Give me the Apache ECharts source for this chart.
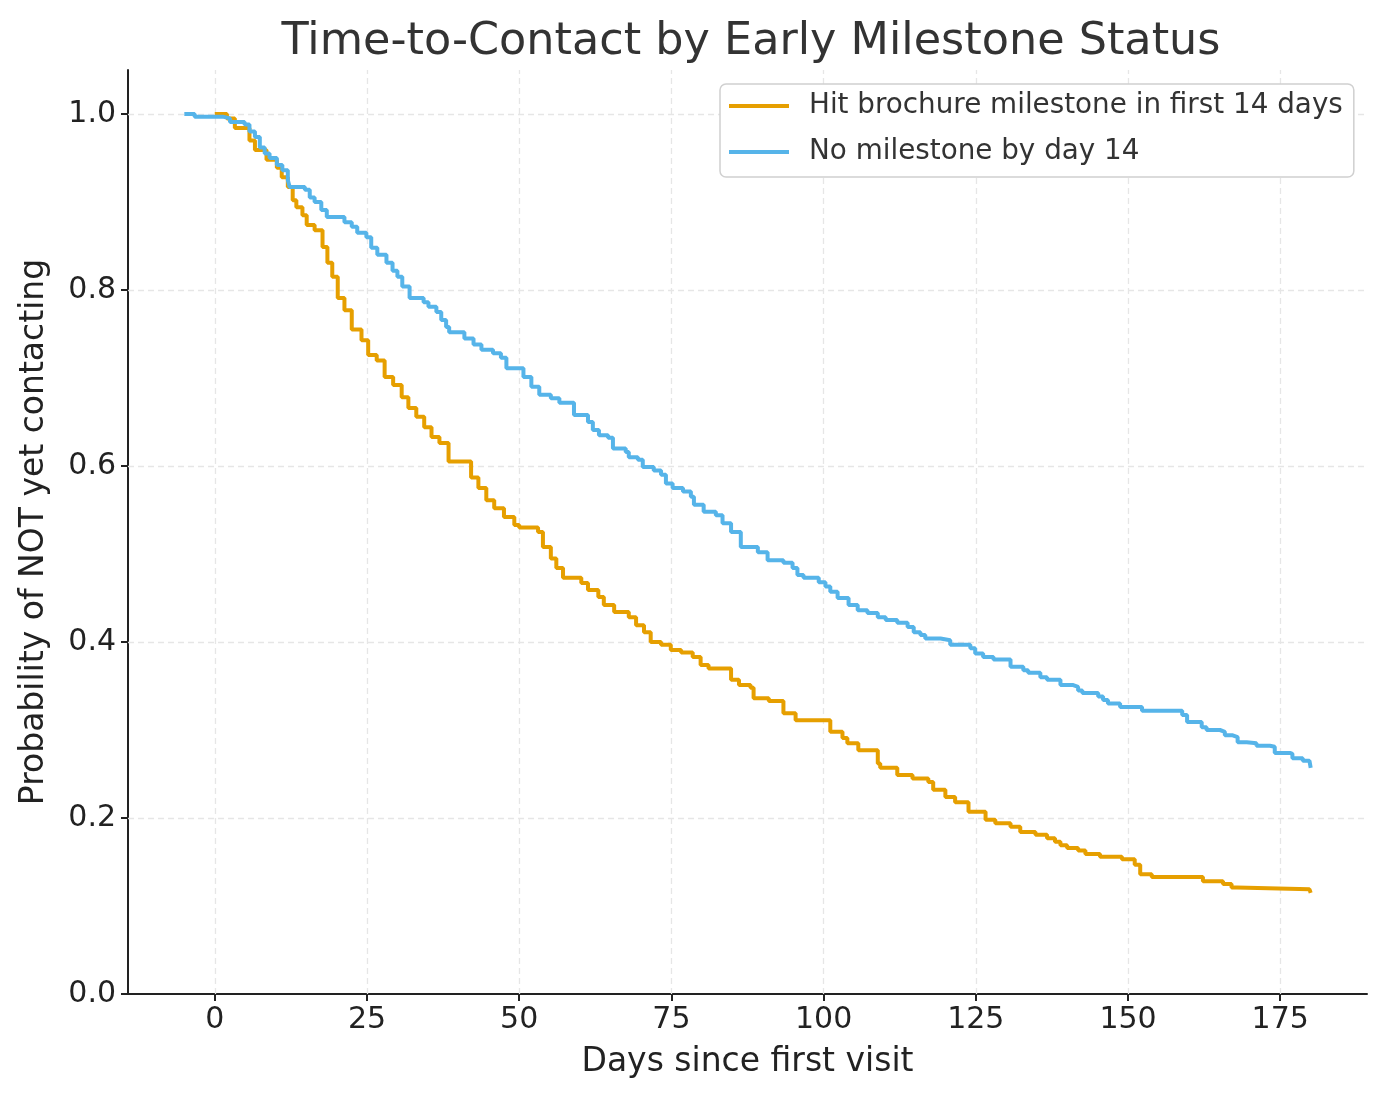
<!DOCTYPE html>
<html><head><meta charset="utf-8">
<script src="https://cdn.jsdelivr.net/npm/echarts@6/dist/echarts.min.js"></script>
<style>html,body{margin:0;padding:0;background:#fff}#c{width:1387px;height:1101px}</style>
</head><body><div id="c"></div>
<script>
const seriesNames = ['Hit brochure milestone in first 14 days', 'No milestone by day 14'];
const hitDays = [0,2.0,3.3,5.7,6.6,8.5,10.2,11.0,12.0,12.8,13.4,14.4,15.1,16.4,17.7,18.5,19.3,20.2,21.3,22.5,24.1,25.2,26.6,27.9,29.3,30.7,31.8,33.1,34.4,35.6,36.9,38.4,42.1,43.3,44.6,45.9,47.5,49.2,50.0,53.1,53.9,55.2,56.1,57.2,60.2,61.3,63.0,63.9,65.6,68.0,69.2,70.5,71.6,73.3,74.9,76.6,78.5,79.8,81.1,84.8,86.1,88.0,88.5,91.0,93.4,95.4,101.1,103.1,103.9,105.7,108.9,109.3,112.1,114.6,117.2,118.0,120.0,121.6,123.8,126.6,128.2,130.7,132.3,134.8,136.7,138.0,138.9,140.0,141.8,143.0,145.4,149.0,151.1,152.0,153.9,162.3,165.6,167.0,167.9,179.8,180.0];
const hitSurv = [1.0,0.995,0.984,0.97,0.959,0.948,0.939,0.928,0.917,0.902,0.894,0.885,0.874,0.868,0.849,0.831,0.815,0.791,0.777,0.755,0.743,0.726,0.72,0.701,0.692,0.678,0.666,0.656,0.644,0.633,0.626,0.605,0.587,0.575,0.561,0.552,0.542,0.533,0.53,0.525,0.508,0.495,0.484,0.473,0.467,0.459,0.451,0.442,0.434,0.428,0.419,0.411,0.40,0.397,0.391,0.388,0.383,0.374,0.37,0.357,0.351,0.348,0.336,0.333,0.319,0.311,0.298,0.291,0.285,0.277,0.262,0.257,0.249,0.245,0.241,0.232,0.224,0.218,0.207,0.198,0.194,0.19,0.184,0.181,0.177,0.173,0.169,0.166,0.163,0.159,0.156,0.153,0.147,0.136,0.133,0.128,0.125,0.121,0.119,0.119,0.115];
const noDays = [-5,-3.3,1.3,2.5,4.9,5.7,6.6,7.4,8.2,9.0,10.2,11.1,12.0,12.3,14.8,15.6,16.4,17.5,18.4,21.3,22.5,23.4,24.9,25.7,26.7,28.2,29.2,30.0,30.8,32.0,34.3,35.1,36.4,37.2,38.0,38.5,41.0,42.5,43.8,45.7,47.0,47.9,50.7,52.0,53.3,55.2,56.6,59.0,61.3,62.1,63.1,64.6,65.4,67.5,68.0,69.5,70.3,72.1,73.3,74.1,75.2,76.9,78.2,78.7,80.3,82.3,83.4,84.8,86.4,89.2,90.8,93.4,94.9,95.7,96.7,99.2,100.3,101.1,102.3,104.1,105.6,107.2,108.9,110.2,112.1,113.8,114.8,115.9,116.7,119.2,120.8,124.1,124.9,126.2,127.9,130.7,132.8,133.6,135.6,136.7,138.9,141.0,141.8,142.5,145.1,145.9,146.7,148.7,152.3,158.9,159.7,162.1,162.9,165.1,165.9,167.2,168.0,169.5,171.1,173.3,174.1,176.6,177.0,178.7,179.8,180.0];
const noSurv = [1.0,0.997,0.995,0.991,0.988,0.98,0.974,0.962,0.955,0.95,0.942,0.936,0.925,0.917,0.914,0.905,0.9,0.891,0.883,0.877,0.872,0.865,0.86,0.848,0.84,0.831,0.822,0.815,0.804,0.791,0.786,0.781,0.775,0.766,0.758,0.752,0.745,0.738,0.732,0.728,0.723,0.711,0.701,0.69,0.681,0.677,0.672,0.658,0.65,0.641,0.635,0.632,0.62,0.616,0.61,0.607,0.599,0.595,0.59,0.58,0.575,0.571,0.565,0.556,0.548,0.544,0.535,0.525,0.508,0.502,0.493,0.49,0.484,0.476,0.473,0.468,0.463,0.457,0.45,0.442,0.436,0.433,0.428,0.425,0.422,0.417,0.411,0.408,0.404,0.402,0.397,0.393,0.387,0.383,0.38,0.372,0.368,0.365,0.36,0.357,0.351,0.349,0.345,0.342,0.338,0.334,0.33,0.326,0.322,0.317,0.309,0.303,0.3,0.298,0.294,0.292,0.286,0.285,0.282,0.281,0.274,0.273,0.268,0.265,0.264,0.257];
const xTicks = [0,25,50,75,100,125,150,175];
const yTicks = [0,0.2,0.4,0.6,0.8,1.0];
const colors = ['#E69F00', '#56B4E9'];

const pair = (xs, ys) => xs.map((x, i) => [x, ys[i]]);
const font = 'DejaVu Sans';
const chart = echarts.init(document.getElementById('c'), null, {renderer: 'canvas'});
chart.setOption({
  animation: false,
  backgroundColor: '#fff',
  title: {text: 'Time-to-Contact by Early Milestone Status', left: 746, top: 15, textAlign: 'center',
    textStyle: {fontFamily: font, fontSize: 44.5, fontWeight: 'normal', color: '#333'}},
  legend: {orient: 'vertical', left: 720, top: 84, itemWidth: 60, itemHeight: 4, itemGap: 18,
    padding: [8, 11, 11, 9], icon: 'rect', borderColor: '#d0d0d0', borderWidth: 1.5, borderRadius: 6,
    backgroundColor: '#fff', z: 20,
    textStyle: {fontFamily: font, fontSize: 27.8, color: '#333', padding: [0, 0, 0, 15]},
    data: seriesNames},
  grid: {left: 128, right: 20, top: 70, bottom: 107, containLabel: false},
  xAxis: {type: 'value', min: -14.25, max: 189.25,
    name: 'Days since first visit', nameLocation: 'middle', nameGap: 52,
    nameTextStyle: {fontFamily: font, fontSize: 33, color: '#222'},
    axisLine: {onZero: false, lineStyle: {color: '#222', width: 2}},
    axisTick: {show: true, length: 7, customValues: xTicks, lineStyle: {color: '#222', width: 2}},
    axisLabel: {customValues: xTicks, fontFamily: font, fontSize: 30, color: '#222', margin: 11},
    splitLine: {show: false}},
  yAxis: {type: 'value', min: 0, max: 1.05,
    name: 'Probability of NOT yet contacting', nameLocation: 'middle', nameGap: 77,
    nameTextStyle: {fontFamily: font, fontSize: 33, color: '#222'},
    axisLine: {show: true, onZero: false, lineStyle: {color: '#222', width: 2}},
    axisTick: {show: true, length: 7, customValues: yTicks, lineStyle: {color: '#222', width: 2}},
    axisLabel: {customValues: yTicks, fontFamily: font, fontSize: 30, color: '#222', margin: 12,
      formatter: v => v.toFixed(1)},
    splitLine: {show: false}},
  series: [
    {name: seriesNames[0], type: 'line', step: 'end', showSymbol: false, data: pair(hitDays, hitSurv),
      lineStyle: {color: colors[0], width: 4}, itemStyle: {color: colors[0]}, z: 3,
      markLine: {silent: true, symbol: 'none', label: {show: false}, animation: false, z: 1,
        lineStyle: {color: '#e6e6e6', type: [6, 4], width: 1.3},
        data: xTicks.map(v => ({xAxis: v})).concat(yTicks.filter(v => v > 0).map(v => ({yAxis: v})))}},
    {name: seriesNames[1], type: 'line', step: 'end', showSymbol: false, data: pair(noDays, noSurv),
      lineStyle: {color: colors[1], width: 4}, itemStyle: {color: colors[1]}, z: 4}
  ]
});
</script></body></html>
